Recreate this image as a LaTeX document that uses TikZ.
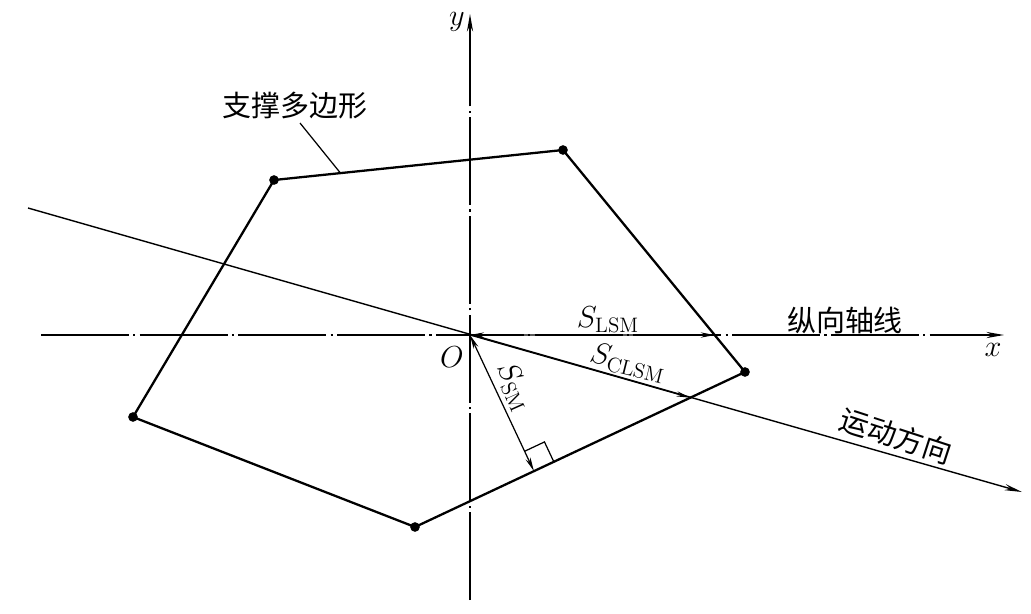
\documentclass[tikz,border=0pt]{standalone}
\usepackage{fontspec}
\newfontfamily\cjk{Noto Sans CJK SC}
\usetikzlibrary{arrows.meta,calc}
\begin{document}
\begin{tikzpicture}[x=0.02cm,y=-0.02cm,
  axis/.style={line width=0.8pt, dash pattern=on 50pt off 2.5pt on 1.2pt off 2.5pt},
  poly/.style={line width=1.3pt, line join=round},
  vtx/.style={circle, fill=black, inner sep=0pt, minimum size=5.5pt},
  tip/.style={-{Stealth[length=10pt,width=3.5pt]}},
  dim/.style={line width=0.7pt, {Stealth[length=8pt,width=3pt]}-{Stealth[length=8pt,width=3pt]}},
  lbl/.style={font=\fontsize{17}{20}\selectfont},
  zh/.style={font=\cjk\fontsize{16.5}{20}\selectfont}]
  \useasboundingbox (0,0) rectangle (1031,613);
  % axes
  \coordinate (O) at (470,335);
  \coordinate (xs) at (41,335);
  \coordinate (xe) at (1004,335);
  \coordinate (ys) at (470,600);
  \coordinate (ye) at (470,14);
  \draw[axis, tip] (xs) -- (xe);
  \draw[axis, tip] (ys) -- (ye);
  % motion direction
  \coordinate (ms) at (28,208);
  \coordinate (me) at (1022,492);
  \draw[line width=0.8pt, tip] (ms) -- (me);
  % support polygon
  \coordinate (v1) at (274,180);
  \coordinate (v2) at (563,150);
  \coordinate (v3) at (745,372);
  \coordinate (v4) at (415,527);
  \coordinate (v5) at (133,417);
  \draw[poly] (v1) -- (v2) -- (v3) -- (v4) -- (v5) -- cycle;
  \foreach \v in {v1,v2,v3,v4,v5}
    \node[vtx] at (\v) {};
  % distances
  \coordinate (pL) at (intersection of O--xe and v2--v3);
  \coordinate (pC) at (intersection of O--me and v3--v4);
  \coordinate (pF) at ($(v4)!(O)!(v3)$);
  \draw[dim] (O) -- (pL);
  \draw[line width=0.7pt, -{Stealth[length=8pt,width=3pt]}] (O) -- (pC);
  \draw[dim] (O) -- (pF);
  \coordinate (q1) at ($(pF)!12.5pt!(v3)$);
  \coordinate (q3) at ($(pF)!12.5pt!(O)$);
  \draw[line width=0.7pt] (q1) -- ($(q1)+(q3)-(pF)$) -- (q3);
  % labels
  \coordinate (lead) at ($(v1)!0.23!(v2)$);
  \node[zh] (poly) at (295,106) {支撑多边形};
  \draw[line width=0.7pt] (300,123) -- (lead);
  \node[lbl] (ylbl) at (457,22) {$y$};
  \node[lbl] (xlbl) at (993,350) {$x$};
  \node[lbl] (olbl) at (452,357) {$O$};
  \node[lbl] (sl) at (608,320) {$S_{\mathrm{LSM}}$};
  \node[zh] (axlbl) at (845,320) {纵向轴线};
  \node[lbl, rotate=-14] (sc) at (628,363) {$S_{\mathrm{CLSM}}$};
  \node[lbl, rotate=-66] (ss) at (514,387) {$S_{\mathrm{SM}}$};
  \node[zh, rotate=-18] (mvlbl) at (896,436) {运动方向};
\end{tikzpicture}
\end{document}
